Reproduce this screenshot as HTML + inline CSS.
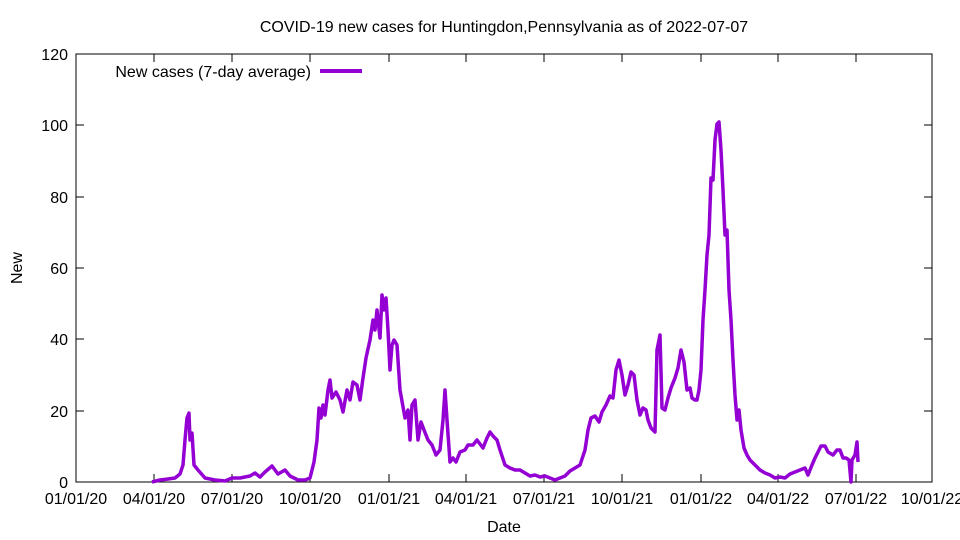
<!DOCTYPE html>
<html><head><meta charset="utf-8"><style>body{margin:0;background:#fff}svg{display:block}text{font-family:"Liberation Sans",sans-serif;font-size:16px;fill:#000}</style></head><body>
<svg width="960" height="540" viewBox="0 0 960 540">
<rect x="76" y="54" width="856" height="428" fill="none" stroke="#000" stroke-width="1"/>
<g stroke="#000" stroke-width="1">
<path d="M76 482h8M76 411h8M76 339h8M76 268h8M76 197h8M76 125h8M76 54h8M932 482h-8M932 411h-8M932 339h-8M932 268h-8M932 197h-8M932 125h-8M932 54h-8"/>
<path d="M76 482v-8M154 482v-8M232 482v-8M310 482v-8M389 482v-8M466 482v-8M544 482v-8M622 482v-8M701 482v-8M778 482v-8M856 482v-8M932 482v-8M76 54v8M154 54v8M232 54v8M310 54v8M389 54v8M466 54v8M544 54v8M622 54v8M701 54v8M778 54v8M856 54v8M932 54v8"/>
</g>
<g text-anchor="end">
<text x="68" y="488">0</text><text x="68" y="417">20</text><text x="68" y="345">40</text><text x="68" y="274">60</text><text x="68" y="203">80</text><text x="68" y="131">100</text><text x="68" y="60">120</text>
</g>
<g text-anchor="middle">
<text x="76" y="504">01/01/20</text><text x="154" y="504">04/01/20</text><text x="232" y="504">07/01/20</text><text x="310" y="504">10/01/20</text><text x="389" y="504">01/01/21</text><text x="466" y="504">04/01/21</text><text x="544" y="504">07/01/21</text><text x="622" y="504">10/01/21</text><text x="701" y="504">01/01/22</text><text x="778" y="504">04/01/22</text><text x="856" y="504">07/01/22</text><text x="932" y="504">10/01/22</text>
<text x="504" y="532">Date</text>
<text x="504" y="32">COVID-19 new cases for Huntingdon,Pennsylvania as of 2022-07-07</text>
<text x="22" y="268" transform="rotate(-90 22 268)">New</text>
</g>
<text x="311" y="77" text-anchor="end">New cases (7-day average)</text>
<line x1="320" y1="71" x2="362" y2="71" stroke="#9400d3" stroke-width="4"/>
<polyline fill="none" stroke="#9400d3" stroke-width="3.5" stroke-linejoin="round" points="152,482 160,480 168,479 175,478 180,474 183,465 185,440 187,418 189,413 190,440 192,433 194,465 198,470 205,478 215,480 225,481 232,478 240,478 250,476 255,473 260,477 265,472 272,466 278,474 285,470 290,476 298,480 305,480 310,478 314,462 317,440 319,408 321,418 323,405 325,415 328,390 330,380 332,398 336,392 340,400 343,412 347,390 350,400 353,382 357,385 360,400 363,378 366,358 370,340 373,320 375,330 377,310 380,338 382,295 384,310 386,298 388,330 390,370 392,345 394,340 397,345 400,390 405,418 408,410 410,440 412,405 415,400 418,440 421,422 424,430 428,440 432,445 436,455 440,450 443,420 445,390 447,420 450,462 453,458 456,462 460,452 465,450 468,445 473,445 477,440 480,444 483,448 487,438 490,432 493,436 497,440 500,450 505,465 510,468 515,470 520,470 525,473 530,476 535,475 540,477 545,476 550,478 555,480 560,478 565,476 570,471 575,468 580,465 585,450 588,430 591,418 595,416 599,422 602,412 606,405 610,396 613,398 616,370 619,360 622,375 625,395 628,385 631,372 634,375 637,400 640,415 643,408 646,410 648,420 651,428 655,432 657,350 660,335 662,408 665,410 668,398 671,388 675,378 678,368 681,350 684,362 687,390 690,388 692,398 695,400 697,400 699,390 701,370 703,320 705,290 707,255 709,235 711,178 713,180 715,140 717,124 719,122 721,150 723,190 725,235 727,230 729,290 731,320 733,360 735,395 737,420 739,410 741,430 744,448 747,455 750,460 755,465 760,470 765,473 770,475 775,478 780,477 785,478 790,474 795,472 800,470 805,468 808,475 812,465 815,458 818,452 821,446 825,446 828,452 833,455 837,450 840,450 843,458 846,458 849,460 851,482 852,460 855,455 857,442 858,462"/>
</svg>
</body></html>
